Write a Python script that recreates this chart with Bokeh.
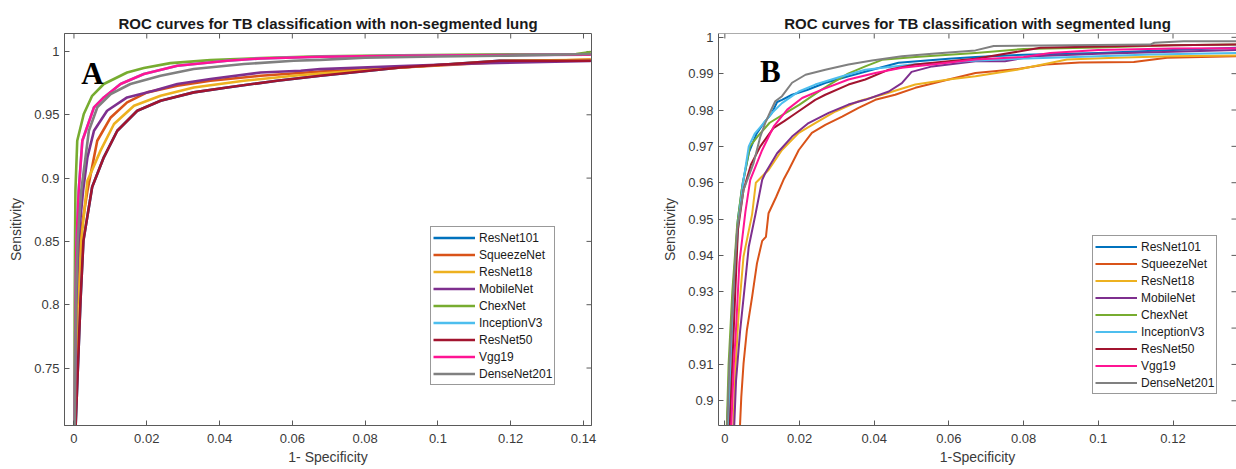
import math
from bokeh.plotting import figure
from bokeh.models import FixedTicker, Label, Span
from bokeh.layouts import row
from bokeh.embed import file_html
from bokeh.resources import INLINE

# ---------------- data ----------------
MODELS = ["ResNet101", "SqueezeNet", "ResNet18", "MobileNet", "ChexNet",
          "InceptionV3", "ResNet50", "Vgg19", "DenseNet201"]
COLORS = ["#0072BD", "#D95319", "#EDB120", "#7E2F8E", "#77AC30",
          "#4DBEEE", "#A2142F", "#FF1493", "#808080"]

# Panel A: non-segmented lung  (1-specificity, sensitivity)
A_RESNET101_X = [0.0004, 0.0018, 0.0026, 0.0050, 0.0082, 0.0119, 0.0174, 0.0238, 0.0329, 0.0421, 0.0558, 0.0677, 0.0897, 0.1170, 0.1420]
A_RESNET101_Y = [0.700, 0.8033, 0.8506, 0.8930, 0.9164, 0.9374, 0.9532, 0.9611, 0.9677, 0.9716, 0.9769, 0.9808, 0.9874, 0.9927, 0.9927]
A_SQUEEZENET_X = [0.0003, 0.0008, 0.0015, 0.0037, 0.0064, 0.0101, 0.0146, 0.0201, 0.0284, 0.0375, 0.0513, 0.0677, 0.0900, 0.1170, 0.1420]
A_SQUEEZENET_Y = [0.700, 0.800, 0.850, 0.890, 0.9295, 0.9479, 0.9598, 0.9677, 0.9729, 0.9769, 0.9808, 0.9842, 0.9874, 0.9915, 0.9937]
A_RESNET18_X = [0.0003, 0.0010, 0.0020, 0.0037, 0.0073, 0.0110, 0.0165, 0.0238, 0.0329, 0.0467, 0.0604, 0.0677, 0.0900, 0.1170, 0.1420]
A_RESNET18_Y = [0.700, 0.800, 0.850, 0.8978, 0.9217, 0.9427, 0.9572, 0.9650, 0.9716, 0.9769, 0.9808, 0.9826, 0.9874, 0.9925, 0.9935]
A_MOBILENET_X = [0.0003, 0.0006, 0.0012, 0.0025, 0.0037, 0.0055, 0.0091, 0.0146, 0.0219, 0.0284, 0.0375, 0.0513, 0.0623, 0.0677, 0.0900, 0.1100, 0.1420]
A_MOBILENET_Y = [0.700, 0.800, 0.850, 0.890, 0.9164, 0.9374, 0.9532, 0.9637, 0.9690, 0.9743, 0.9782, 0.9834, 0.9848, 0.9861, 0.9885, 0.9905, 0.9925]
A_CHEXNET_X = [0.0001, 0.0002, 0.0003, 0.0004, 0.0009, 0.0027, 0.0050, 0.0082, 0.0146, 0.0192, 0.0265, 0.0375, 0.0513, 0.0677, 0.0900, 0.1200, 0.1380, 0.1420]
A_CHEXNET_Y = [0.700, 0.800, 0.850, 0.890, 0.9295, 0.9506, 0.9650, 0.9743, 0.9834, 0.9869, 0.9908, 0.9932, 0.9948, 0.9961, 0.9970, 0.9978, 0.9980, 0.9995]
A_INCEPTIONV3_X = [0.0002, 0.0004, 0.0007, 0.0013, 0.0023, 0.0055, 0.0082, 0.0128, 0.0192, 0.0284, 0.0421, 0.0513, 0.0677, 0.0900, 0.1200, 0.1420]
A_INCEPTIONV3_Y = [0.700, 0.800, 0.850, 0.890, 0.9295, 0.9558, 0.9637, 0.9743, 0.9822, 0.9887, 0.9927, 0.9945, 0.9958, 0.9966, 0.9972, 0.9975]
A_RESNET50_X = [0.0004, 0.0018, 0.0026, 0.0050, 0.0082, 0.0119, 0.0174, 0.0238, 0.0329, 0.0421, 0.0558, 0.0677, 0.0897, 0.1170, 0.1420]
A_RESNET50_Y = [0.700, 0.8033, 0.8506, 0.8930, 0.9164, 0.9374, 0.9532, 0.9611, 0.9677, 0.9716, 0.9769, 0.9808, 0.9874, 0.9927, 0.9927]
A_VGG19_X = [0.0002, 0.0004, 0.0007, 0.0013, 0.0023, 0.0055, 0.0082, 0.0128, 0.0192, 0.0284, 0.0421, 0.0513, 0.0677, 0.0900, 0.1200, 0.1420]
A_VGG19_Y = [0.700, 0.800, 0.850, 0.890, 0.9295, 0.9558, 0.9637, 0.9743, 0.9822, 0.9887, 0.9927, 0.9945, 0.9958, 0.9966, 0.9972, 0.9975]
A_DENSENET201_X = [0.0002, 0.0005, 0.0010, 0.0020, 0.0041, 0.0064, 0.0101, 0.0155, 0.0238, 0.0329, 0.0467, 0.0604, 0.0677, 0.0800, 0.1000, 0.1170, 0.1420]
A_DENSENET201_Y = [0.700, 0.800, 0.850, 0.890, 0.9374, 0.9558, 0.9664, 0.9743, 0.9808, 0.9861, 0.9901, 0.9927, 0.9934, 0.9950, 0.9960, 0.9966, 0.9980]

# Panel B: segmented lung
B_RESNET101_X = [0.0003, 0.0013, 0.0022, 0.0035, 0.0048, 0.0065, 0.0085, 0.0105, 0.0125, 0.0140, 0.0153, 0.0180, 0.0220, 0.0270, 0.0331, 0.0400, 0.0465, 0.0599, 0.0671, 0.0800, 0.1000, 0.1200, 0.1370]
B_RESNET101_Y = [0.885, 0.910, 0.930, 0.950, 0.960, 0.9685, 0.9735, 0.9765, 0.9790, 0.9822, 0.9828, 0.9842, 0.9855, 0.9875, 0.9893, 0.9912, 0.9930, 0.9941, 0.9946, 0.9952, 0.9957, 0.9965, 0.9971]
B_SQUEEZENET_X = [0.0037, 0.0044, 0.0050, 0.0059, 0.0073, 0.0086, 0.0100, 0.0110, 0.0117, 0.0137, 0.0157, 0.0171, 0.0198, 0.0233, 0.0269, 0.0314, 0.0358, 0.0403, 0.0456, 0.0510, 0.0599, 0.0671, 0.0785, 0.0860, 0.0950, 0.1095, 0.1184, 0.1370]
B_SQUEEZENET_Y = [0.885, 0.901, 0.9102, 0.9194, 0.9286, 0.9378, 0.9440, 0.9451, 0.9516, 0.9560, 0.9608, 0.9635, 0.9690, 0.9737, 0.9759, 0.9782, 0.9806, 0.9828, 0.9842, 0.9861, 0.9884, 0.9902, 0.9913, 0.9925, 0.9931, 0.9932, 0.9944, 0.9948]
B_RESNET18_X = [0.0020, 0.0029, 0.0037, 0.0050, 0.0073, 0.0083, 0.0117, 0.0153, 0.0198, 0.0242, 0.0296, 0.0358, 0.0421, 0.0510, 0.0599, 0.0671, 0.0782, 0.0916, 0.1047, 0.1193, 0.1370]
B_RESNET18_Y = [0.885, 0.910, 0.924, 0.9397, 0.9513, 0.9600, 0.9635, 0.9690, 0.9737, 0.9764, 0.9796, 0.9824, 0.9842, 0.9870, 0.9884, 0.9893, 0.9911, 0.9939, 0.9944, 0.9948, 0.9950]
B_MOBILENET_X = [0.0022, 0.0030, 0.0041, 0.0055, 0.0064, 0.0082, 0.0100, 0.0108, 0.0140, 0.0180, 0.0224, 0.0278, 0.0331, 0.0376, 0.0439, 0.0474, 0.0500, 0.0555, 0.0671, 0.0750, 0.0826, 0.1000, 0.1200, 0.1370]
B_MOBILENET_Y = [0.885, 0.9056, 0.9194, 0.9332, 0.9424, 0.9513, 0.9608, 0.9626, 0.9681, 0.9727, 0.9764, 0.9792, 0.9815, 0.9828, 0.9851, 0.9874, 0.9905, 0.9920, 0.9934, 0.9934, 0.9948, 0.9955, 0.9960, 0.9965]
B_CHEXNET_X = [0.0003, 0.0010, 0.0020, 0.0033, 0.0045, 0.0067, 0.0090, 0.0120, 0.0160, 0.0200, 0.0250, 0.0287, 0.0330, 0.0376, 0.0421, 0.0510, 0.0671, 0.0800, 0.1000, 0.1200, 0.1370]
B_CHEXNET_Y = [0.885, 0.910, 0.930, 0.9484, 0.958, 0.9700, 0.9730, 0.9765, 0.9790, 0.9815, 0.9850, 0.9874, 0.9900, 0.9920, 0.9938, 0.9946, 0.9957, 0.9968, 0.9972, 0.9978, 0.9980]
B_INCEPTIONV3_X = [0.0009, 0.0015, 0.0024, 0.0037, 0.0050, 0.0057, 0.0064, 0.0080, 0.0100, 0.0126, 0.0153, 0.0198, 0.0242, 0.0314, 0.0376, 0.0500, 0.0650, 0.0809, 0.1000, 0.1139, 0.1370]
B_INCEPTIONV3_Y = [0.885, 0.910, 0.930, 0.950, 0.9608, 0.9654, 0.9700, 0.9735, 0.9759, 0.9792, 0.9819, 0.9851, 0.9870, 0.9893, 0.9911, 0.9925, 0.9935, 0.9942, 0.9948, 0.9953, 0.9957]
B_RESNET50_X = [0.0010, 0.0020, 0.0028, 0.0035, 0.0050, 0.0070, 0.0095, 0.0130, 0.0160, 0.0184, 0.0242, 0.0269, 0.0331, 0.0376, 0.0439, 0.0510, 0.0599, 0.0671, 0.0845, 0.1000, 0.1200, 0.1370]
B_RESNET50_Y = [0.885, 0.910, 0.930, 0.947, 0.958, 0.965, 0.970, 0.975, 0.977, 0.9787, 0.9828, 0.9842, 0.9870, 0.9884, 0.9911, 0.9925, 0.9934, 0.9941, 0.9971, 0.9975, 0.9978, 0.9980]
B_VGG19_X = [0.0014, 0.0024, 0.0030, 0.0039, 0.0055, 0.0068, 0.0100, 0.0131, 0.0167, 0.0207, 0.0260, 0.0331, 0.0403, 0.0474, 0.0555, 0.0671, 0.0800, 0.0871, 0.1000, 0.1200, 0.1370]
B_VGG19_Y = [0.885, 0.910, 0.920, 0.938, 0.952, 0.9608, 0.9690, 0.9755, 0.9801, 0.9833, 0.9856, 0.9884, 0.9902, 0.9916, 0.9925, 0.9939, 0.9946, 0.9957, 0.9965, 0.9969, 0.9970]
B_DENSENET201_X = [0.0004, 0.0012, 0.0021, 0.0033, 0.0050, 0.0077, 0.0095, 0.0108, 0.0122, 0.0135, 0.0153, 0.0180, 0.0216, 0.0269, 0.0331, 0.0394, 0.0474, 0.0555, 0.0671, 0.0720, 0.1139, 0.1150, 0.1228, 0.1370]
B_DENSENET201_Y = [0.885, 0.910, 0.9276, 0.947, 0.958, 0.9654, 0.9727, 0.9764, 0.9796, 0.9824, 0.9838, 0.9875, 0.9897, 0.9911, 0.9925, 0.9936, 0.9948, 0.9955, 0.9964, 0.9976, 0.9980, 0.9985, 0.9989, 0.9989]

A_X = [A_RESNET101_X, A_SQUEEZENET_X, A_RESNET18_X, A_MOBILENET_X, A_CHEXNET_X,
       A_INCEPTIONV3_X, A_RESNET50_X, A_VGG19_X, A_DENSENET201_X]
A_Y = [A_RESNET101_Y, A_SQUEEZENET_Y, A_RESNET18_Y, A_MOBILENET_Y, A_CHEXNET_Y,
       A_INCEPTIONV3_Y, A_RESNET50_Y, A_VGG19_Y, A_DENSENET201_Y]
B_X = [B_RESNET101_X, B_SQUEEZENET_X, B_RESNET18_X, B_MOBILENET_X, B_CHEXNET_X,
       B_INCEPTIONV3_X, B_RESNET50_X, B_VGG19_X, B_DENSENET201_X]
B_Y = [B_RESNET101_Y, B_SQUEEZENET_Y, B_RESNET18_Y, B_MOBILENET_Y, B_CHEXNET_Y,
       B_INCEPTIONV3_Y, B_RESNET50_Y, B_VGG19_Y, B_DENSENET201_Y]

A_X_TICKS = [0, 0.02, 0.04, 0.06, 0.08, 0.1, 0.12, 0.14]
A_X_LABELS = ["0", "0.02", "0.04", "0.06", "0.08", "0.1", "0.12", "0.14"]
A_Y_TICKS = [0.75, 0.8, 0.85, 0.9, 0.95, 1.0]
A_Y_LABELS = ["0.75", "0.8", "0.85", "0.9", "0.95", "1"]
B_X_TICKS = [0, 0.02, 0.04, 0.06, 0.08, 0.1, 0.12]
B_X_LABELS = ["0", "0.02", "0.04", "0.06", "0.08", "0.1", "0.12"]
B_Y_TICKS = [0.9, 0.91, 0.92, 0.93, 0.94, 0.95, 0.96, 0.97, 0.98, 0.99, 1.0]
B_Y_LABELS = ["0.9", "0.91", "0.92", "0.93", "0.94", "0.95", "0.96", "0.97", "0.98", "0.99", "1"]

A_TITLE = "ROC curves for TB classification with non-segmented lung"
B_TITLE = "ROC curves for TB classification with segmented lung"
A_XLABEL = "1- Specificity"
B_XLABEL = "1-Specificity"
YLABEL = "Sensitivity"

# ---------------- styling ----------------
FONT = "Liberation Sans"
AX_COLOR = "#5a5a5a"
TXT_COLOR = "#3a3a3a"


def make_panel(title, xs, ys, xr, yr, xt, xl, yt, yl, xlabel, width, borders,
               lw, legend_loc, letter, letter_xy, outline, right_ticks_x):
    p = figure(width=width, height=469, x_range=xr, y_range=yr,
               output_backend="svg", toolbar_location=None,
               min_border_left=borders[0], min_border_right=borders[1],
               min_border_top=33, min_border_bottom=44)
    p.background_fill_color = "white"
    p.border_fill_color = "white"
    p.grid.visible = False
    p.outline_line_color = AX_COLOR if outline else None
    p.outline_line_width = 1

    p.title.text = title
    p.title.text_font = FONT
    p.title.text_font_size = "15px"
    p.title.text_font_style = "bold"
    p.title.text_color = "#1a1a1a"
    p.title.align = "center"
    p.title.standoff = 4

    for ax, ticks, labels in ((p.xaxis[0], xt, xl), (p.yaxis[0], yt, yl)):
        ax.ticker = FixedTicker(ticks=ticks)
        ax.major_label_overrides = {t: s for t, s in zip(ticks, labels)}
        ax.major_tick_in = 5
        ax.major_tick_out = 0
        ax.minor_tick_line_color = None
        ax.axis_line_color = AX_COLOR
        ax.major_tick_line_color = AX_COLOR
        ax.major_label_text_font = FONT
        ax.major_label_text_font_size = "13px"
        ax.major_label_text_color = TXT_COLOR
        ax.axis_label_text_font = FONT
        ax.axis_label_text_font_size = "14px"
        ax.axis_label_text_font_style = "normal"
        ax.axis_label_text_color = TXT_COLOR
    p.xaxis[0].axis_label = xlabel
    p.xaxis[0].major_label_standoff = 8
    p.xaxis[0].axis_label_standoff = 3
    p.yaxis[0].axis_label = YLABEL
    p.yaxis[0].major_label_standoff = 5
    p.yaxis[0].axis_label_standoff = 7

    # ticks on the top and right edges, pointing inward
    p.ray(x=xt, y=[yr[1]] * len(xt), length=5, length_units="screen",
          angle=-math.pi / 2, line_color=AX_COLOR, line_width=1)
    p.ray(x=[right_ticks_x] * len(yt), y=yt, length=5, length_units="screen",
          angle=math.pi, line_color=AX_COLOR, line_width=1)
    if not outline:
        p.add_layout(Span(location=yr[1], dimension="width",
                          line_color=AX_COLOR, line_width=1))

    for name, color, x, y in zip(MODELS, COLORS, xs, ys):
        p.line(x, y, line_color=color, line_width=lw, line_join="round",
               legend_label=name)

    lg = p.legend[0]
    lg.location = legend_loc
    lg.label_text_font = FONT
    lg.label_text_font_size = "12px"
    lg.label_text_color = "#1a1a1a"
    lg.glyph_width = 42
    lg.glyph_height = 17
    lg.label_height = 17
    lg.label_standoff = 4
    lg.spacing = 0
    lg.padding = 2
    lg.margin = 0
    lg.border_line_color = "#333333"
    lg.border_line_width = 1
    lg.background_fill_color = "white"
    lg.background_fill_alpha = 1

    p.add_layout(Label(x=letter_xy[0], y=letter_xy[1], text=letter,
                       text_font="Liberation Serif", text_font_style="bold",
                       text_font_size="31px", text_color="black",
                       text_baseline="alphabetic"))
    return p


pa = make_panel(A_TITLE, A_X, A_Y, (-0.0026, 0.1422), (0.7046, 1.0142),
                A_X_TICKS, A_X_LABELS, A_Y_TICKS, A_Y_LABELS, A_XLABEL,
                620, (64, 29), 2.6, (366, 40), "A", (0.0020, 0.983), True, 0.1422)
pb = make_panel(B_TITLE, B_X, B_Y, (-0.0017, 0.1370), (0.8932, 1.00105),
                B_X_TICKS, B_X_LABELS, B_Y_TICKS, B_Y_LABELS, B_XLABEL,
                616, (98, 0), 2.0, (374, 31), "B", (0.0094, 0.9906), False, 0.1370)

layout = row(pa, pb)
open("out.html", "w").write(file_html(layout, INLINE))
